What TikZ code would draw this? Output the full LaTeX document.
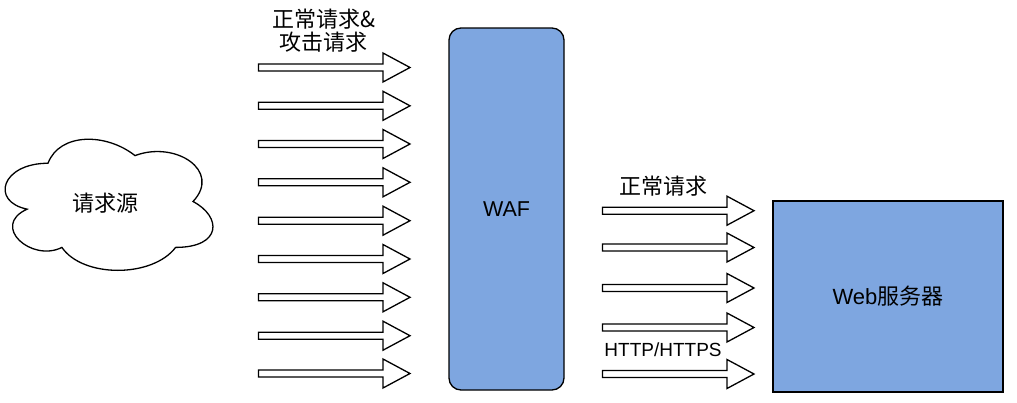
\documentclass[tikz,border=0pt]{standalone}
\usepackage{fontspec}
\setmainfont{Liberation Sans}
\newfontfamily\cjk{Noto Sans CJK SC}
\definecolor{boxblue}{HTML}{7EA6E0}
\tikzset{
  arrowline/.style={draw=black, line width=1.3pt, fill=white, line join=miter},
  fatarrow/.pic={\path[arrowline] (0,-3.5) -- (124.5,-3.5) -- (124.5,-14.5) -- (151.5,0) -- (124.5,14.5) -- (124.5,3.5) -- (0,3.5) -- cycle;},
  lbl/.style={inner sep=0pt, font=\fontsize{22}{22.5}\selectfont, align=center},
  wafbox/.style={draw=black, line width=1.3pt, fill=boxblue, rounded corners=12pt, inner sep=0pt},
  webbox/.style={draw=black, line width=1.3pt, fill=boxblue, inner sep=0pt}
}
\begin{document}
\begin{tikzpicture}[x=1pt,y=-1pt]
\useasboundingbox (0,0) rectangle (1017,402);
% cloud
\path[draw=black, line width=1.3pt, fill=white]
  (48,163.25) .. controls (1.6,163.25) and (-10,201.5) .. (27.12,209.15)
  .. controls (-10,225.98) and (31.76,262.7) .. (61.92,247.4)
  .. controls (82.8,278) and (152.4,278) .. (175.6,247.4)
  .. controls (222,247.4) and (222,216.8) .. (193,201.5)
  .. controls (222,170.9) and (175.6,140.3) .. (135,155.6)
  .. controls (106,132.65) and (59.6,132.65) .. (48,163.25) -- cycle;
\node[lbl] (src) at (105,203) {\cjk 请求源};
% left arrows
\foreach \yy in {67.5,105.8,144,182.3,220.7,259,297.3,335.7,373.5}
  \pic at (258.5,\yy) {fatarrow};
\node[lbl] (lab1) at (323.5,30.5) {\cjk 正常请求\&\\\cjk 攻击请求};
% WAF
\node[wafbox, minimum width=115pt, minimum height=362pt, font=\fontsize{21.5}{22}\selectfont] (waf) at (506.5,209) {WAF};
% right arrows
\foreach \yy in {210.7,247.5,288,327.5,374}
  \pic at (602.5,\yy) {fatarrow};
\node[lbl] (lab2) at (663,186) {\cjk 正常请求};
\node[lbl, font=\fontsize{19}{20}\selectfont] (lab3) at (663,350) {HTTP/HTTPS};
% Web server
\node[webbox, minimum width=230pt, minimum height=191pt, font=\fontsize{22}{22.5}\selectfont] (web) at (888,296.5) {Web{\cjk 服务器}};
\end{tikzpicture}
\end{document}
